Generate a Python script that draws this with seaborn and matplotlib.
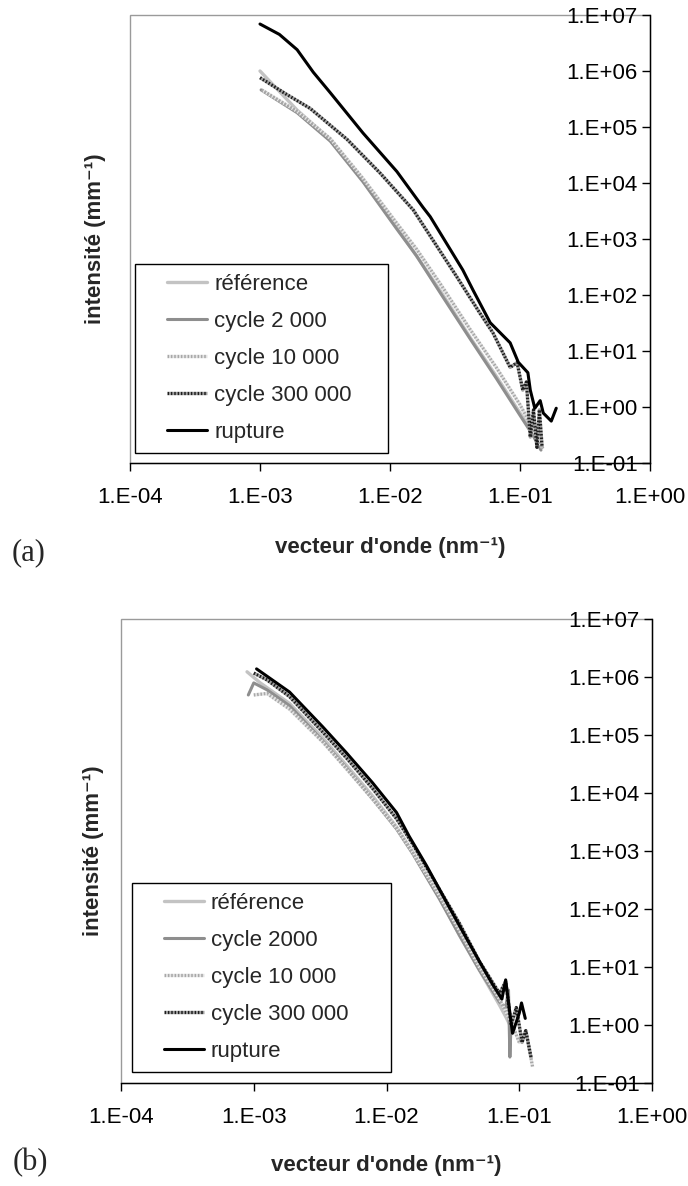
import numpy as np
import matplotlib
matplotlib.use("Agg")
import matplotlib.pyplot as plt
import seaborn as sns
from matplotlib.lines import Line2D
from matplotlib.legend_handler import HandlerLine2D
from matplotlib.patches import Rectangle
from matplotlib.ticker import FixedLocator, FuncFormatter, NullLocator

sns.set_style("white")
plt.rcParams["font.family"] = ["Liberation Sans", "DejaVu Sans"]

# ---- data (q in nm-1, I in mm-1) ----
labels_a = ["référence", "cycle 2 000", "cycle 10 000", "cycle 300 000", "rupture"]
labels_b = ["référence", "cycle 2000", "cycle 10 000", "cycle 300 000", "rupture"]

# panel (a)
q_ref_a = [1.0e-3, 1.93e-3, 3.47e-3, 6.2e-3, 1.13e-2, 1.6e-2, 2.43e-2, 4.1e-2, 6.6e-2, 1.0e-1, 1.25e-1, 1.43e-1]
i_ref_a = [1.0e6, 2.0e5, 6.0e4, 1.1e4, 1.6e3, 5.0e2, 1.2e2, 1.8e1, 3.5, 0.78, 0.35, 0.19]

q_c2k_a = [1.02e-3, 1.93e-3, 3.47e-3, 6.2e-3, 1.13e-2, 1.6e-2, 2.43e-2, 4.1e-2, 6.6e-2, 1.0e-1, 1.25e-1, 1.45e-1]
i_c2k_a = [4.6e5, 1.8e5, 5.6e4, 1.05e4, 1.5e3, 5.0e2, 1.1e2, 1.7e1, 3.2, 0.71, 0.32, 0.17]

q_c10k_a = [1.03e-3, 1.93e-3, 3.47e-3, 6.2e-3, 1.13e-2, 1.6e-2, 2.43e-2, 4.1e-2, 6.6e-2, 1.0e-1, 1.2e-1, 1.38e-1, 1.5e-1]
i_c10k_a = [4.6e5, 1.9e5, 6.2e4, 1.2e4, 1.9e3, 6.6e2, 1.6e2, 2.5e1, 5.0, 1.1, 0.5, 0.25, 0.18]

q_c300k_a = [1.0e-3, 1.58e-3, 2.43e-3, 4.68e-3, 8.4e-3, 1.51e-2, 3.27e-2, 4.9e-2, 6.2e-2, 8.4e-2,
             9.5e-2, 1.05e-1, 1.12e-1, 1.2e-1, 1.27e-1, 1.35e-1, 1.41e-1, 1.48e-1]
i_c300k_a = [7.6e5, 3.9e5, 2.15e5, 6.0e4, 1.5e4, 3.3e3, 2.1e2, 48, 21, 5.1,
             6.2, 2.0, 2.8, 0.29, 0.89, 0.19, 0.89, 0.19]

q_rup_a = [1.0e-3, 1.41e-3, 1.93e-3, 2.57e-3, 3.47e-3, 6.2e-3, 1.13e-2, 1.79e-2, 2.04e-2, 3.63e-2,
           4.37e-2, 5.9e-2, 8.4e-2, 9.7e-2, 1.15e-1, 1.2e-1, 1.3e-1, 1.43e-1, 1.51e-1, 1.74e-1, 1.9e-1]
i_rup_a = [6.9e6, 4.5e6, 2.4e6, 9.5e5, 4.1e5, 7.8e4, 1.6e4, 3.7e3, 2.5e3, 2.8e2,
           1.2e2, 32, 14, 6.3, 4.1, 2.0, 0.95, 1.3, 0.78, 0.56, 0.95]

# panel (b)
q_ref_b = [8.9e-4, 1.12e-3, 1.86e-3, 3.31e-3, 5.0e-3, 7.85e-3, 1.19e-2, 1.58e-2, 2.5e-2, 3.55e-2, 5.0e-2, 7.1e-2, 7.9e-2, 8.7e-2]
i_ref_b = [1.23e6, 7.9e5, 3.5e5, 8.9e4, 3.0e4, 8.9e3, 2.6e3, 9.5e2, 1.6e2, 35, 8.9, 2.2, 1.4, 0.9]

q_c2k_b = [9.1e-4, 1.0e-3, 1.26e-3, 1.86e-3, 3.31e-3, 5.0e-3, 7.85e-3, 1.19e-2, 1.58e-2, 2.5e-2,
           3.55e-2, 5.0e-2, 7.1e-2, 7.9e-2, 8.3e-2, 8.5e-2, 8.7e-2]
i_c2k_b = [4.9e5, 7.9e5, 6.0e5, 3.2e5, 7.9e4, 2.7e4, 7.9e3, 2.4e3, 8.9e2, 1.5e2,
           35, 8.9, 2.5, 2.0, 4.0, 0.28, 1.26]

q_c10k_b = [1.0e-3, 1.26e-3, 1.86e-3, 3.31e-3, 5.0e-3, 7.85e-3, 1.19e-2, 1.58e-2, 2.5e-2, 3.55e-2,
            5.0e-2, 7.1e-2, 8.9e-2, 1.0e-1, 1.12e-1, 1.26e-1]
i_c10k_b = [4.9e5, 5.2e5, 2.8e5, 7.6e4, 2.6e4, 7.9e3, 2.5e3, 9.3e2, 1.7e2, 42,
            10, 2.8, 1.0, 0.5, 0.8, 0.19]

q_c300k_b = [1.0e-3, 1.26e-3, 1.86e-3, 3.31e-3, 5.0e-3, 7.85e-3, 1.19e-2, 1.58e-2, 2.5e-2, 3.55e-2,
             5.0e-2, 7.1e-2, 7.9e-2, 8.7e-2, 9.5e-2, 1.05e-1, 1.12e-1, 1.23e-1]
i_c300k_b = [1.17e6, 8.9e5, 4.6e5, 1.12e5, 4.0e4, 1.2e4, 3.6e3, 1.3e3, 2.2e2, 56,
             12.6, 3.5, 5.6, 1.0, 2.0, 0.5, 0.8, 0.27]

q_rup_b = [1.05e-3, 1.86e-3, 3.31e-3, 5.0e-3, 7.85e-3, 1.19e-2, 1.48e-2, 2.0e-2, 2.95e-2, 3.98e-2,
           5.0e-2, 6.3e-2, 7.4e-2, 7.9e-2, 8.5e-2, 8.9e-2, 1.0e-1, 1.04e-1, 1.11e-1]
i_rup_b = [1.38e6, 5.5e5, 1.38e5, 4.9e4, 1.5e4, 4.6e3, 1.8e3, 5.6e2, 1.1e2, 32,
           12.6, 5.0, 2.8, 6.0, 1.6, 0.72, 1.6, 2.4, 1.3]

x_ticks = [1e-4, 1e-3, 1e-2, 1e-1, 1e0]
y_ticks = [1e-1, 1e0, 1e1, 1e2, 1e3, 1e4, 1e5, 1e6, 1e7]

line_styles = [
    dict(color="#c3c3c3", lw=2.4),
    dict(color="#8e8e8e", lw=2.2),
    dict(color="#a8a8a8", lw=2.4, linestyle=(0, (0.5, 0.5)), gapcolor="#e4e4e4"),
    dict(color="#1e1e1e", lw=2.4, linestyle=(0, (0.5, 0.5)), gapcolor="#a0a0a0"),
    dict(color="black", lw=2.2),
]


def excel_fmt(v, pos):
    return "1.E{:+03d}".format(int(round(np.log10(v))))


def draw_panel(ax, series, labels, legend_box):
    ax.set_xscale("log")
    ax.set_yscale("log")
    for (q, i), lab, st in zip(series, labels, line_styles):
        sns.lineplot(x=q, y=i, ax=ax, label=lab, sort=False, estimator=None, **st)
    ax.set_xlim(1e-4, 1e0)
    ax.set_ylim(1e-1, 1e7)
    ax.xaxis.set_major_locator(FixedLocator(x_ticks))
    ax.yaxis.set_major_locator(FixedLocator(y_ticks))
    ax.xaxis.set_minor_locator(NullLocator())
    ax.yaxis.set_minor_locator(NullLocator())
    ax.xaxis.set_major_formatter(FuncFormatter(excel_fmt))
    ax.yaxis.set_major_formatter(FuncFormatter(excel_fmt))

    # value axis sits on the right edge, labels on its inner side
    ax.spines["left"].set_position(("axes", 1.0))
    ax.spines["right"].set_visible(False)
    ax.spines["top"].set_visible(False)
    for s in ("left", "bottom"):
        ax.spines[s].set_color("black")
        ax.spines[s].set_linewidth(1.0)
        ax.spines[s].set_zorder(5)
    ax.add_patch(Rectangle((0, 0), 1, 1, transform=ax.transAxes, fill=False,
                           edgecolor="#9a9a9a", lw=1.0, zorder=0.5, clip_on=False))

    ax.tick_params(axis="x", bottom=True, direction="out", length=6, width=1,
                   pad=11, labelsize=16, colors="black")
    ax.tick_params(axis="y", left=True, right=False, direction="out", length=6, width=1,
                   pad=3, labelsize=16, colors="black")
    ax.set_xlabel("")
    ax.set_ylabel("")
    ax.grid(False)

    leg = ax.legend(loc="lower left", bbox_to_anchor=legend_box, mode="expand",
                    borderaxespad=0, fontsize=16, frameon=True, fancybox=False,
                    framealpha=1, edgecolor="black", borderpad=0.45, handlelength=2.8,
                    handletextpad=0.3, labelspacing=0.72,
                    handler_map={Line2D: HandlerLine2D(xpad=1.0)})
    leg.get_frame().set_linewidth(1.0)


fig = plt.figure(figsize=(6.88, 11.86), dpi=100)
ax_a = fig.add_axes([130 / 688, 1 - 463 / 1186, 520 / 688, 448 / 1186])
ax_b = fig.add_axes([121 / 688, 1 - 1083 / 1186, 531 / 688, 464 / 1186])

series_a = [(q_ref_a, i_ref_a), (q_c2k_a, i_c2k_a), (q_c10k_a, i_c10k_a),
            (q_c300k_a, i_c300k_a), (q_rup_a, i_rup_a)]
series_b = [(q_ref_b, i_ref_b), (q_c2k_b, i_c2k_b), (q_c10k_b, i_c10k_b),
            (q_c300k_b, i_c300k_b), (q_rup_b, i_rup_b)]

draw_panel(ax_a, series_a, labels_a, (0.01, 0.022, 0.487, 0.4))
draw_panel(ax_b, series_b, labels_b, (0.02, 0.024, 0.488, 0.4))

lab_kw = dict(fontsize=16, fontweight="bold", ha="center", va="center")
fig.text(390 / 688, 1 - 548 / 1186, "vecteur d'onde (nm⁻¹)", **lab_kw)
fig.text(386 / 688, 1 - 1165 / 1186, "vecteur d'onde (nm⁻¹)", **lab_kw)
fig.text(96 / 688, 1 - 239 / 1186, "intensité (mm⁻¹)", rotation=90, **lab_kw)
fig.text(93 / 688, 1 - 851 / 1186, "intensité (mm⁻¹)", rotation=90, **lab_kw)

fig.text(29 / 688, 1 - 553 / 1186, "(a)", fontsize=22, family="Liberation Serif",
         ha="center", va="center")
fig.text(30 / 688, 1 - 1163 / 1186, "(b)", fontsize=22, family="Liberation Serif",
         ha="center", va="center")

fig.savefig("out.png", dpi=100)
